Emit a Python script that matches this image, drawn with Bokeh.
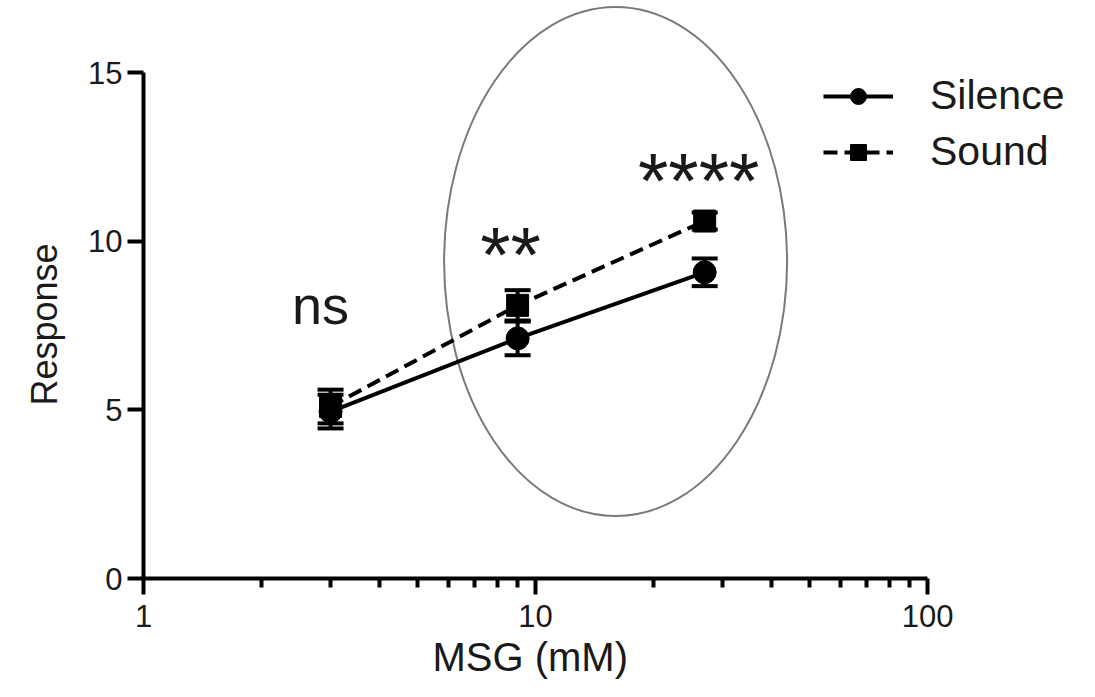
from bokeh.plotting import figure
from bokeh.models import (ColumnDataSource, Whisker, TeeHead, Range1d, FixedTicker,
                          BasicTickFormatter, Label, Legend, Title)
from bokeh.embed import file_html
from bokeh.resources import INLINE

# ---- data ----
msg_mM = [3, 9, 27]
silence_mean = [4.95, 7.12, 9.08]
silence_err = [0.5, 0.5, 0.41]
sound_mean = [5.1, 8.1, 10.6]
sound_err = [0.5, 0.45, 0.25]
sig_labels = ["ns", "**", "****"]
x_ticks = [1, 10, 100]
x_minor = [2, 3, 4, 5, 6, 7, 8, 9, 20, 30, 40, 50, 60, 70, 80, 90]
y_ticks = [0, 5, 10, 15]

FONT = "Liberation Sans"
INK = "#1a1a1a"

p = figure(width=1079, height=681, output_backend="svg", toolbar_location=None,
           x_axis_type="log", x_range=Range1d(1, 244), y_range=Range1d(0, 17.14),
           min_border_left=143, min_border_bottom=96, min_border_top=0,
           min_border_right=0)
p.outline_line_color = None
p.grid.visible = False
p.background_fill_color = "white"

# axes
for ax in (p.xaxis[0], p.yaxis[0]):
    ax.axis_line_width = 4
    ax.axis_line_color = "black"
    ax.major_tick_line_width = 4
    ax.major_tick_line_color = "black"
    ax.minor_tick_line_width = 4
    ax.minor_tick_line_color = "black"
    ax.major_tick_in = 0
    ax.minor_tick_in = 0
    ax.major_label_text_font = FONT
    ax.major_label_text_font_size = "31px"
    ax.major_label_text_color = INK

p.xaxis.ticker = FixedTicker(ticks=x_ticks, minor_ticks=x_minor)
p.xaxis.formatter = BasicTickFormatter()
p.xaxis.bounds = (1, 100)
p.xaxis.major_tick_out = 16
p.xaxis.minor_tick_out = 9
p.xaxis.major_label_standoff = 10

p.yaxis.ticker = FixedTicker(ticks=y_ticks, minor_ticks=[])
p.yaxis.bounds = (0, 15)
p.yaxis.major_tick_out = 16
p.yaxis.minor_tick_out = 0
p.yaxis.major_label_standoff = 5

# ellipse annotation
p.ellipse(x=[16.0], y=[9.4], width=343, height=509, width_units="screen",
          height_units="screen", fill_color=None, line_color="#7a7a7a", line_width=2)

sil = ColumnDataSource(dict(x=msg_mM, y=silence_mean,
                            lo=[m - e for m, e in zip(silence_mean, silence_err)],
                            hi=[m + e for m, e in zip(silence_mean, silence_err)]))
snd = ColumnDataSource(dict(x=msg_mM, y=sound_mean,
                            lo=[m - e for m, e in zip(sound_mean, sound_err)],
                            hi=[m + e for m, e in zip(sound_mean, sound_err)]))

for src in (sil, snd):
    w = Whisker(base="x", upper="hi", lower="lo", source=src, line_width=4,
                line_color="black",
                upper_head=TeeHead(size=26, line_width=4, line_color="black"),
                lower_head=TeeHead(size=26, line_width=4, line_color="black"))
    p.add_layout(w)

l1 = p.line("x", "y", source=sil, line_width=4, line_color="black")
c1 = p.scatter("x", "y", source=sil, marker="circle", size=23, color="black")
l2 = p.line("x", "y", source=snd, line_width=4, line_color="black", line_dash="14 7")
c2 = p.scatter("x", "y", source=snd, marker="square", size=22, color="black")

legend = Legend(items=[("Silence", [l1, c1]), ("Sound", [l2, c2])],
                location=(680, 403), glyph_width=70, glyph_height=40,
                label_height=40, spacing=9, padding=0, margin=0,
                label_standoff=37, label_text_font=FONT,
                label_text_font_size="41px", label_text_color=INK,
                border_line_color=None, background_fill_alpha=0)
p.add_layout(legend)

# significance labels
sig_y = [8.1, 9.6, 11.78]
sig_size = ["54px", "78px", "78px"]
sig_dx = [-10, -7, -6]
for xv, yv, t, fs, dx in zip(msg_mM, sig_y, sig_labels, sig_size, sig_dx):
    p.add_layout(Label(x=xv, y=yv, text=t, text_font=FONT, text_font_size=fs,
                       text_align="center", text_baseline="middle", x_offset=dx,
                       text_color=INK))

# axis titles
p.add_layout(Title(text="MSG (mM)", align="left", offset=289, text_font=FONT,
                   text_font_size="40px", text_font_style="normal",
                   text_color=INK, standoff=6), "below")
p.add_layout(Title(text="Response", align="left", offset=173, text_font=FONT,
                   text_font_size="36px", text_font_style="normal",
                   text_color=INK, standoff=42), "left")

open("out.html", "w").write(file_html(p, INLINE))
